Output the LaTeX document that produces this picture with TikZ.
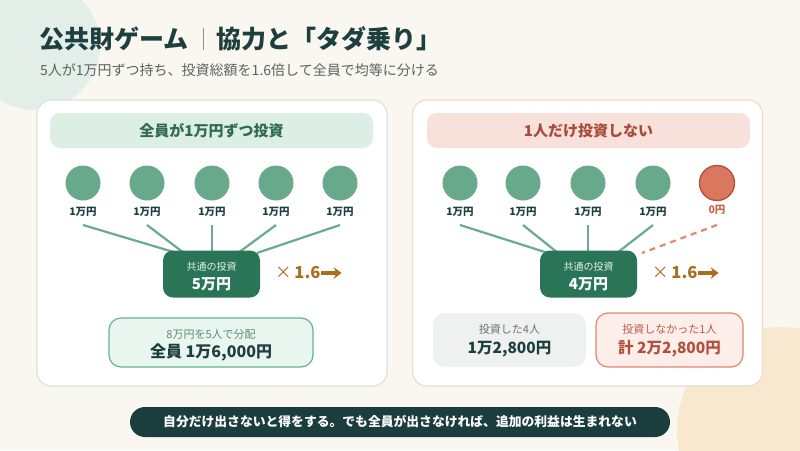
\documentclass[tikz,border=0pt]{standalone}
\usepackage{fontspec}
\setmainfont{Noto Sans CJK JP}
\usetikzlibrary{calc,arrows.meta}
\definecolor{bgc}{HTML}{FAF7F1}
\definecolor{tlc}{HTML}{E2EEE7}
\definecolor{brc}{HTML}{F8E8CF}
\definecolor{ink}{HTML}{1E3F3F}
\definecolor{subc}{HTML}{5A6363}
\definecolor{pbl}{HTML}{D3E6DA}
\definecolor{pbr}{HTML}{EFD9CB}
\definecolor{hgf}{HTML}{DDEFE4}
\definecolor{hgt}{HTML}{2F6B50}
\definecolor{hrf}{HTML}{F9E1DB}
\definecolor{hrt}{HTML}{A84B3A}
\definecolor{coing}{HTML}{68A98C}
\definecolor{coinr}{HTML}{D9785E}
\definecolor{coinrb}{HTML}{B5513D}
\definecolor{zeroc}{HTML}{C9644C}
\definecolor{linkc}{HTML}{6AAA8E}
\definecolor{dashc}{HTML}{E3866C}
\definecolor{boxg}{HTML}{2A7457}
\definecolor{gold}{HTML}{A96F1C}
\definecolor{resf}{HTML}{E9F5EF}
\definecolor{resb}{HTML}{63B48D}
\definecolor{resg}{HTML}{5B8C73}
\definecolor{grayf}{HTML}{EEF1F0}
\definecolor{grayt}{HTML}{6B7272}
\definecolor{redf}{HTML}{FDEEEA}
\definecolor{redb}{HTML}{E08770}
\definecolor{redt}{HTML}{B95A45}
\definecolor{redtt}{HTML}{B0503A}
\definecolor{banc}{HTML}{1C3D3E}
\tikzset{
  txt/.style={inner sep=0pt},
  panel/.style={fill=white, line width=1.2pt, rounded corners=14pt, minimum width=350pt, minimum height=286pt, inner sep=0pt},
  hdr/.style={rounded corners=10pt, minimum width=323pt, minimum height=35pt, inner sep=0pt, font=\fontsize{15}{15}\selectfont\bfseries},
  coin/.style={circle, fill=coing, minimum size=35pt, inner sep=0pt},
  lab/.style={inner sep=0pt, text=ink, font=\fontsize{10.5}{10.5}\selectfont\bfseries},
  link/.style={draw=linkc, line width=2.2pt},
  pool/.style={fill=boxg, rounded corners=10pt, minimum width=97pt, minimum height=47pt, inner sep=0pt},
  mult/.style={inner sep=0pt, anchor=west, text=gold, font=\fontsize{16.5}{16.5}\selectfont},
  garrow/.style={draw=gold, line width=3.2pt, -{Stealth[length=8pt,width=12pt,inset=3pt]}},
  resbox/.style={rounded corners=12pt, inner sep=0pt},
}
\begin{document}
\begin{tikzpicture}[x=1pt,y=-1pt]
\useasboundingbox (0,0) rectangle (800,450);
\fill[bgc] (0,0) rectangle (800,450);
\fill[tlc] (35,45) circle[radius=65pt];
\fill[brc] (780,430) circle[radius=103pt];

% title
\node[txt, anchor=west, text=ink, font=\fontsize{25}{25}\selectfont\bfseries] (t1) at (39,38.5) {公共財ゲーム};
\coordinate (bar1) at (203,28);
\coordinate (bar2) at (203,50);
\draw[draw=subc!70, line width=1pt] (bar1) -- (bar2);
\node[txt, anchor=west, text=ink, font=\fontsize{25}{25}\selectfont\bfseries] (t2) at (216,38.5) {協力と「タダ乗り」};
\node[txt, anchor=west, text=subc, font=\fontsize{14}{14}\selectfont] (st) at (40,70) {5人が1万円ずつ持ち、投資総額を1.6倍して全員で均等に分ける};

% panels
\node[panel, draw=pbl] (pl) at (212,243) {};
\node[panel, draw=pbr] (pr) at (587.5,243) {};

% headers
\node[hdr, fill=hgf, text=hgt] (hl) at (211.5,130.5) {全員が1万円ずつ投資};
\node[hdr, fill=hrf, text=hrt] (hr) at (588.5,130.5) {1人だけ投資しない};

% left coins
\foreach \i/\x in {1/83,2/147,3/212,4/276,5/340}{
  \node[coin] (a\i) at (\x,183) {};
  \node[lab] (b\i) at (\x,212) {1万円};
}
\coordinate (lt) at (212,251);
\draw[link] ($(a1)+(0,42)$) -- ($(lt)+(-35,2)$);
\draw[link] ($(a2)+(0,42)$) -- ($(lt)+(-28,2)$);
\draw[link] ($(a3)+(0,42)$) -- ($(lt)+(0,2)$);
\draw[link] ($(a4)+(0,42)$) -- ($(lt)+(26,2)$);
\draw[link] ($(a5)+(0,42)$) -- ($(lt)+(45,2)$);
\node[pool] (lbox) at (211.5,274) {};
\node[txt, text=white!88!boxg, font=\fontsize{10}{10}\selectfont] (lbx1) at (211.5,266.5) {共通の投資};
\node[txt, text=white, font=\fontsize{15}{15}\selectfont\bfseries] (lbx2) at (211.5,284) {5万円};
\node[mult] (lm) at (275,273) {×\,\textbf{1.6}};
\draw[garrow] ($(lm.east)+(0.5,0)$) -- ($(lm.east)+(21,0)$);

\node[resbox, fill=resf, draw=resb, line width=1.2pt, minimum width=204pt, minimum height=49pt] (lres) at (211,342.5) {};
\node[txt, text=resg, font=\fontsize{11}{11}\selectfont] (lr1) at (211,334) {8万円を5人で分配};
\node[txt, text=ink, font=\fontsize{16}{16}\selectfont\bfseries] (lr2) at (211,352) {全員 1万6,000円};

% right coins
\foreach \i/\x in {1/460,2/523,3/588,4/653}{
  \node[coin] (c\i) at (\x,183) {};
  \node[lab] (d\i) at (\x,212) {1万円};
}
\node[coin, fill=coinr, draw=coinrb, line width=1.4pt] (c5) at (717,183) {};
\node[lab, text=zeroc] (d5) at (717,210) {0円};
\coordinate (rt) at (588,251);
\draw[link] ($(c1)+(0,42)$) -- ($(rt)+(-40,2)$);
\draw[link] ($(c2)+(0,42)$) -- ($(rt)+(-30,2)$);
\draw[link] ($(c3)+(0,42)$) -- ($(rt)+(0,2)$);
\draw[link] ($(c4)+(0,42)$) -- ($(rt)+(29,2)$);
\draw[draw=dashc, line width=2.2pt, dash pattern=on 6pt off 5pt] ($(c5)+(0,42)$) -- ($(rt)+(54,2)$);
\node[pool] (rbox) at (588.5,274) {};
\node[txt, text=white!88!boxg, font=\fontsize{10}{10}\selectfont] (rbx1) at (588.5,266.5) {共通の投資};
\node[txt, text=white, font=\fontsize{15}{15}\selectfont\bfseries] (rbx2) at (588.5,284) {4万円};
\node[mult] (rm) at (652,273) {×\,\textbf{1.6}};
\draw[garrow] ($(rm.east)+(0.5,0)$) -- ($(rm.east)+(21,0)$);

\node[resbox, fill=grayf, minimum width=153pt, minimum height=54pt] (rg) at (509.5,340) {};
\node[txt, text=grayt, font=\fontsize{11}{11}\selectfont] (rg1) at (509.5,329) {投資した4人};
\node[txt, text=ink, font=\fontsize{15.5}{15.5}\selectfont\bfseries] (rg2) at (509.5,349) {1万2,800円};
\node[resbox, fill=redf, draw=redb, line width=1.2pt, minimum width=147pt, minimum height=54pt] (rr) at (669.5,340) {};
\node[txt, text=redt, font=\fontsize{11}{11}\selectfont] (rr1) at (669.5,329) {投資しなかった1人};
\node[txt, text=redtt, font=\fontsize{15.5}{15.5}\selectfont\bfseries] (rr2) at (669.5,349) {計 2万2,800円};

% banner
\node[fill=banc, rounded corners=15pt, minimum width=540pt, minimum height=30pt, inner sep=0pt, text=white, font=\fontsize{12.8}{12.8}\selectfont\bfseries] (ban) at (400,422) {自分だけ出さないと得をする。でも全員が出さなければ、追加の利益は生まれない};
\end{tikzpicture}
\end{document}
